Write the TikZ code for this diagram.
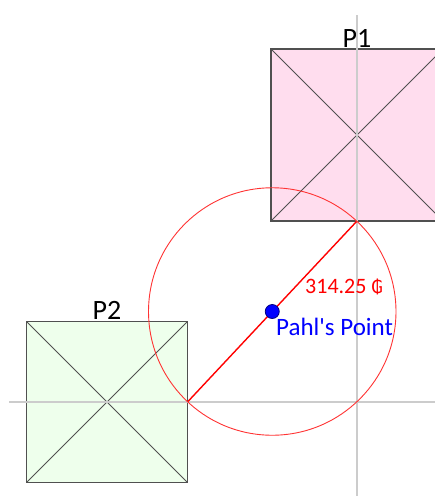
\documentclass[tikz,border=0pt]{standalone}
\usepackage{fontspec}
\setmainfont{Carlito}
\newfontfamily\symfont{DejaVu Sans}
\usetikzlibrary{calc,positioning}

\definecolor{pinkfill}{RGB}{255,221,238}
\definecolor{greenfill}{RGB}{238,255,236}
\definecolor{edgegray}{RGB}{80,80,80}
\definecolor{axisgray}{RGB}{204,204,204}

\begin{document}
\begin{tikzpicture}[
  x=1pt,y=-1pt,
  sq/.style={draw=edgegray,line width=1.2pt,minimum size=#1,inner sep=0pt,outer sep=0pt},
  diag/.style={draw=edgegray,line width=0.9pt},
  axis/.style={draw=axisgray,line width=1.3pt},
  tag/.style={font=\fontsize{28}{30}\selectfont,text=black},
  meas/.style={font=\fontsize{22}{25}\selectfont,text=red}
]
\useasboundingbox (0,0) rectangle (435,501);
\clip (0,0) rectangle (435,501);
% the two squares
\node[sq=172pt,fill=pinkfill] (p1) at (357,135) {};
\node[sq=161pt,fill=greenfill] (p2) at (107,402) {};
\node[tag,above=-2pt of p1] (p1lab) {P1};
\node[tag,above=-2pt of p2] (p2lab) {P2};
\draw[diag] (p1.north west) -- (p1.south east);
\draw[diag] (p1.south west) -- (p1.north east);
\draw[diag] (p2.north west) -- (p2.south east);
\draw[diag] (p2.south west) -- (p2.north east);
% axes through the centres
\coordinate (vtop) at (357,15);
\coordinate (vbot) at (357,496);
\coordinate (hleft) at (9,402);
\coordinate (hright) at (435,402);
\draw[axis] (vtop) -- (vbot);
\draw[axis] (hleft) -- (hright);
% connection and circle
\coordinate (mid) at ($(p2.east)!0.5!(p1.south)$);
\draw[red,line width=1.4pt] (p2.east) -- (p1.south);
\draw[red!80,line width=0.9pt] let \p1=($(p1.south)-(mid)$) in (mid) circle ({veclen(\x1,\y1)});
\node[circle,fill=blue,draw=blue!50!black,line width=0.8pt,minimum size=14pt,inner sep=0pt] (pt) at (mid) {};
\node[meas,anchor=west,inner sep=0pt] (dist) at (305,287) {314.25 {\symfont\fontsize{18}{20}\selectfont ₲}};
\node[text=blue,font=\fontsize{25}{28}\selectfont,anchor=north west,inner sep=0pt] (ptlab) at (276,318) {Pahl\textquotesingle s Point};
\end{tikzpicture}
\end{document}
